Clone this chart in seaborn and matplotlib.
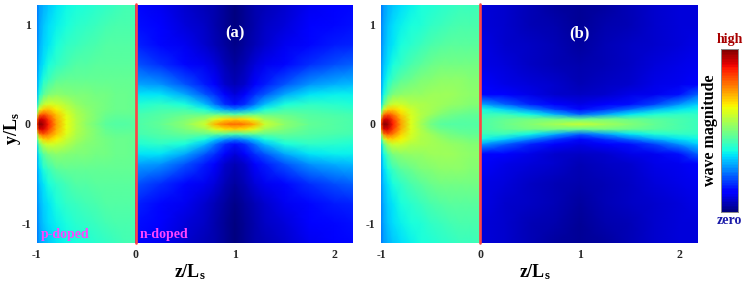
import numpy as np
import matplotlib
matplotlib.use("Agg")
import matplotlib.pyplot as plt
import seaborn as sns

sns.set_theme(style="white")
plt.rcParams['font.family'] = ['Liberation Serif', 'DejaVu Serif']
plt.rcParams['font.weight'] = 'bold'
plt.rcParams['mathtext.fontset'] = 'custom'
plt.rcParams['mathtext.bf'] = 'Liberation Serif:bold'
plt.rcParams['mathtext.rm'] = 'Liberation Serif:bold'
plt.rcParams['mathtext.default'] = 'bf'
plt.rcParams['axes.unicode_minus'] = False

W, H = 747, 283

# sample positions of the wave-magnitude readings (upper half, the map mirrors about y=0)
z_p = [-1, -.97, -.93, -.88, -.8, -.7, -.6, -.5, -.4, -.3, -.2, -.1, 0]
y_p = [0, .05, .1, .15, .2, .3, .45, .6, .8, 1.0, 1.2]
z_a = [0, .25, .5, .7, .8, .9, 1, 1.1, 1.2, 1.3, 1.5, 1.75, 2, 2.19]
z_b = [0, .25, .5, .75, 1, 1.25, 1.5, 1.75, 2, 2.19]
y_n = [0, .05, .1, .15, .2, .3, .4, .6, .8, 1.0, 1.2]

a_p = [
    [85, 100, 96, 88, 74, 63, 57, 52, 49, 46, 45, 45, 46],
    [78, 92, 92, 85, 73, 63, 57, 53, 50, 47, 46, 46, 46],
    [55, 78, 82, 78, 70, 62, 56, 53, 50, 48, 47, 47, 47],
    [42, 62, 69, 70, 65, 59, 55, 52, 50, 49, 48, 48, 47],
    [34, 50, 58, 61, 60, 57, 53, 51, 50, 49, 48, 48, 47],
    [29, 39, 46, 50, 52, 51, 50, 50, 49, 49, 48, 48, 47],
    [27, 34, 39, 42, 46, 47, 47, 47, 47, 47, 47, 47, 47],
    [26, 32, 35, 38, 41, 43, 45, 45, 46, 46, 46, 46, 46],
    [25, 30, 33, 35, 38, 41, 42, 43, 44, 45, 45, 45, 45],
    [24, 29, 32, 34, 36, 38, 40, 41, 42, 43, 44, 44, 44],
    [24, 28, 30, 32, 35, 37, 38, 39, 40, 41, 42, 43, 43],
]
a_n = [
    [44, 47, 52, 60, 72, 78, 80, 78, 72, 60, 52, 47, 45, 44],
    [44, 46, 50, 55, 62, 67, 69, 67, 62, 55, 50, 46, 45, 44],
    [43, 45, 47, 47, 47, 46, 44, 46, 47, 47, 47, 45, 44, 43],
    [41, 43, 43, 38, 33, 28, 25, 28, 33, 38, 43, 43, 42, 41],
    [39, 41, 38, 31, 24, 17, 14, 17, 24, 31, 38, 41, 40, 39],
    [35, 35, 29, 21, 17, 11, 8, 11, 17, 21, 29, 35, 36, 36],
    [29, 27, 21, 15, 11, 7, 5, 7, 11, 15, 21, 27, 30, 31],
    [21, 17, 13, 10, 8, 5, 3, 5, 8, 10, 13, 17, 20, 22],
    [16, 13, 10, 7, 5, 3, 1, 3, 5, 7, 10, 13, 15, 16],
    [14, 11, 8, 6, 4, 2, 0, 2, 4, 6, 8, 11, 13, 14],
    [13, 10, 7, 5, 4, 2, 0, 2, 4, 5, 7, 10, 12, 13],
]
b_p = [
    [85, 100, 97, 88, 74, 62, 55, 49, 46, 45, 45, 45, 45],
    [78, 92, 92, 85, 73, 62, 56, 51, 48, 47, 46, 46, 46],
    [55, 78, 82, 78, 69, 61, 57, 54, 51, 49, 48, 47, 47],
    [42, 60, 68, 69, 65, 60, 56, 55, 53, 51, 50, 49, 49],
    [34, 48, 56, 60, 60, 57, 56, 55, 54, 53, 52, 51, 51],
    [30, 38, 45, 50, 52, 53, 53, 54, 54, 54, 53, 52, 52],
    [28, 34, 38, 42, 46, 48, 50, 51, 52, 52, 52, 51, 51],
    [27, 32, 35, 38, 41, 44, 46, 48, 49, 49, 49, 49, 49],
    [26, 30, 33, 35, 38, 40, 42, 44, 45, 46, 46, 46, 46],
    [25, 29, 32, 34, 36, 38, 39, 41, 42, 43, 44, 44, 44],
    [24, 28, 30, 32, 34, 36, 38, 39, 40, 41, 42, 42, 43],
]
b_n = [
    [44, 48, 51, 55, 59, 55, 51, 47, 44, 42],
    [44, 47, 49, 49, 47, 49, 48, 46, 44, 42],
    [42, 42, 37, 30, 22, 28, 35, 39, 41, 41],
    [38, 33, 26, 18, 13, 17, 23, 30, 35, 37],
    [29, 22, 16, 11, 9, 11, 14, 19, 27, 33],
    [13, 11, 9, 7, 6, 7, 9, 10, 14, 22],
    [11, 9, 8, 7, 5, 6, 7, 9, 10, 12],
    [9, 8, 6, 5, 4, 5, 6, 8, 9, 10],
    [9, 7, 6, 5, 3, 5, 6, 7, 8, 9],
    [8, 7, 5, 4, 2, 4, 5, 7, 8, 8],
    [8, 7, 5, 3, 2, 3, 5, 7, 8, 8],
]
panel_labels = ['(a)', '(b)']
x_ticks = [-1, 0, 1, 2]
y_ticks = [-1, 0, 1]
bar_levels = list(range(100, -1, -1))


def box(x0, y0, x1, y1):
    return [x0 / W, 1 - y1 / H, (x1 - x0) / W, (y1 - y0) / H]


def mirrored(rows):
    arr = np.asarray(rows, float)
    return np.vstack([arr[:0:-1], arr])


def both(y):
    y = np.asarray(y, float)
    return np.concatenate([-y[:0:-1], y])


def draw(ax, z_left, y_left, left, z_right, y_right, right):
    for zs, ys, vals in ((z_left, y_left, left), (z_right, y_right, right)):
        X, Y = np.meshgrid(zs, both(ys))
        ax.pcolormesh(X, Y, mirrored(vals), shading='gouraud', cmap='jet',
                      vmin=0, vmax=100, rasterized=True)
    ax.set_xlim(-1, 2.19)
    ax.set_ylim(-1.2, 1.2)
    ax.set_xticks(x_ticks)
    ax.set_yticks(y_ticks)
    ax.tick_params(length=0, labelsize=8.5, pad=4)
    for s in ax.spines.values():
        s.set_visible(False)
    ax.axvline(0, ymin=0, ymax=1.006, color='#ff4444', lw=1.9, clip_on=False, zorder=5)
    ax.set_xlabel(r'z/L$_{\mathbf{s}}$', fontsize=13, fontweight='bold', labelpad=2, color='black')
    ax.xaxis.set_label_coords(0.484, -0.08)


fig = plt.figure(figsize=(W / 100, H / 100), dpi=100, facecolor='white')
ax_a = fig.add_axes(box(36.5, 5, 353, 243))
ax_b = fig.add_axes(box(381, 5, 698, 243))
draw(ax_a, z_p, y_p, a_p, z_a, y_n, a_n)
draw(ax_b, z_p, y_p, b_p, z_b, y_n, b_n)

ax_a.set_ylabel(r'y/L$_{\mathbf{s}}$', fontsize=13, fontweight='bold', color='black')
ax_a.yaxis.set_label_coords(-0.042, 0.48)
for ax, lab in zip((ax_a, ax_b), panel_labels):
    ax.text(1.0, 0.91, lab, color='white', ha='center', va='center', fontsize=12, fontweight='bold')
ax_a.text(-0.96, -1.11, 'p-doped', color='#ff44ff', fontsize=10, fontweight='bold', va='center')
ax_a.text(0.04, -1.11, 'n-doped', color='#ff44ff', fontsize=10, fontweight='bold', va='center')

cax = fig.add_axes(box(721, 49, 738, 212))
sns.heatmap(np.array(bar_levels)[:, None], cmap='jet', vmin=0, vmax=100, cbar=False, ax=cax,
            xticklabels=False, yticklabels=False)
cax.set_xticks([])
cax.set_yticks([])
for s in cax.spines.values():
    s.set_visible(True)
    s.set_color('#8a8a8a')
    s.set_linewidth(0.7)
fig.text(729.5 / W, 1 - 40 / H, 'high', color='#a80000', ha='center', va='center', fontsize=10, fontweight='bold')
fig.text(729.5 / W, 1 - 221 / H, 'zero', color='#1a1aa8', ha='center', va='center', fontsize=10, fontweight='bold')
fig.text(710 / W, 1 - 130 / H, 'wave magnitude', color='black', rotation=90, ha='center', va='center',
         fontsize=11.5, fontweight='bold')

fig.savefig('out.png', dpi=100)
